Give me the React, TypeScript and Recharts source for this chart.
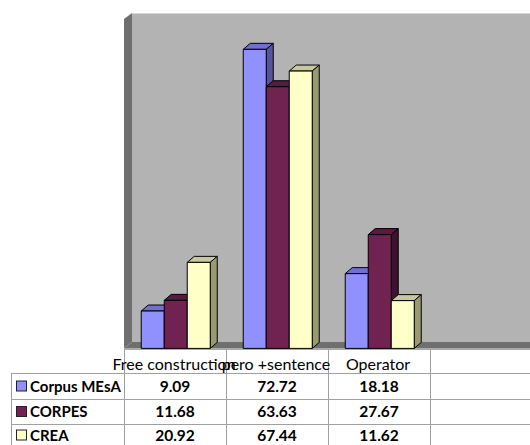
import { BarChart, Bar, XAxis, YAxis } from "recharts";

const categories = ["Free construction", "pero +sentence", "Operator", ""];
const seriesNames = ["Corpus MEsA", "CORPES", "CREA"];
const corpusMesa = [9.09, 72.72, 18.18];
const corpes = [11.68, 63.63, 27.67];
const crea = [20.92, 67.44, 11.62];

const SERIES_KEYS = ["mesa", "corpes", "crea"];
const FRONT = ["#9090ff", "#702350", "#ffffc8"];
const TOP = ["#7070d0", "#5a1a40", "#c8c8a0"];
const SIDE = ["#55559a", "#3e1230", "#9a9a72"];

const data = categories.map((c, i) => ({
  name: c,
  mesa: corpusMesa[i],
  corpes: corpes[i],
  crea: crea[i],
}));

const values = [corpusMesa, corpes, crea];

const DX = 7;
const DY = 6;

// front face + top + side, like the old Excel 3D columns
function make3DBar(idx: number) {
  return (props: any) => {
    const { x, y, width, height } = props;
    if (x == null || !height) return <g />;
    const r = x + width;
    const b = y + height;
    return (
      <g stroke="#000" strokeWidth={1} strokeLinejoin="round">
        <polygon
          points={`${x},${y} ${x + DX},${y - DY} ${r + DX},${y - DY} ${r},${y}`}
          fill={TOP[idx]}
        />
        <polygon
          points={`${r},${y} ${r + DX},${y - DY} ${r + DX},${b - DY} ${r},${b}`}
          fill={SIDE[idx]}
        />
        <rect x={x} y={y} width={width} height={height} fill={FRONT[idx]} />
      </g>
    );
  };
}

const COL_X = [124, 226, 328, 430, 532];
const ROW_Y = [373, 399, 424, 449];

function Backdrop() {
  return (
    <svg
      width={530}
      height={445}
      style={{ position: "absolute", left: 0, top: 0 }}
    >
      {/* back wall */}
      <polygon points="132,13 540,13 540,342 132,342" fill="#b3b3b3" />
      <line x1={132} y1={13.5} x2={540} y2={13.5} stroke="#d8d8d8" />
      {/* side wall */}
      <polygon points="124,19 132,13 132,342 124,348" fill="#6f6f6f" />
      {/* floor */}
      <polygon points="124,348 132,342 540,342 540,348" fill="#6f6f6f" />
      <line x1={124} y1={349} x2={540} y2={349} stroke="#555" />
    </svg>
  );
}

function DataTable() {
  return (
    <svg
      width={530}
      height={445}
      style={{ position: "absolute", left: 0, top: 0 }}
      fontFamily="Lato, 'Noto Sans', sans-serif"
    >
      <g stroke="#a0a0a0" strokeWidth={1}>
        {COL_X.map((cx) => (
          <line key={cx} x1={cx + 0.5} y1={350} x2={cx + 0.5} y2={445} />
        ))}
        <line x1={11.5} y1={ROW_Y[0]} x2={11.5} y2={445} />
        {ROW_Y.slice(0, 3).map((ry) => (
          <line key={ry} x1={11} y1={ry + 0.5} x2={530} y2={ry + 0.5} />
        ))}
      </g>
      {categories.map((c, i) => (
        <text
          key={"h" + i}
          x={(COL_X[i] + COL_X[i + 1]) / 2 - 1}
          y={369.5}
          textAnchor="middle"
          fontSize={16}
          fill="#000"
        >
          {c}
        </text>
      ))}
      {seriesNames.map((s, r) => {
        const cy = (ROW_Y[r] + Math.min(ROW_Y[r + 1], 446)) / 2;
        return (
          <g key={s}>
            <rect
              x={16.5}
              y={cy - 5}
              width={10}
              height={10}
              fill={FRONT[r]}
              stroke="#222"
            />
            <text x={30} y={cy + 5.5} fontSize={15} fontWeight={700} fill="#000">
              {s}
            </text>
            {values[r].map((v, i) => (
              <text
                key={i}
                x={(COL_X[i] + COL_X[i + 1]) / 2}
                y={cy + 5.5}
                textAnchor="middle"
                fontSize={15.5}
                fontWeight={700}
                fill="#000"
              >
                {v.toFixed(2)}
              </text>
            ))}
          </g>
        );
      })}
    </svg>
  );
}

export default function App() {
  return (
    <div
      style={{
        position: "absolute",
        left: 0,
        top: 0,
        width: 530,
        height: 445,
        overflow: "hidden",
        background: "#fff",
      }}
    >
      <Backdrop />
      <div style={{ position: "absolute", left: 0, top: 0 }}>
        <BarChart
          width={540}
          height={445}
          data={data}
          margin={{ top: 19.4, right: 8, bottom: 96.6, left: 124 }}
          barGap={0}
          barCategoryGap="16.9%"
        >
          <XAxis dataKey="name" hide />
          <YAxis domain={[0, 80]} hide />
          {SERIES_KEYS.map((k, i) => (
            <Bar
              key={k}
              dataKey={k}
              name={seriesNames[i]}
              fill={FRONT[i]}
              shape={make3DBar(i)}
              isAnimationActive={false}
            />
          ))}
        </BarChart>
      </div>
      <DataTable />
    </div>
  );
}
